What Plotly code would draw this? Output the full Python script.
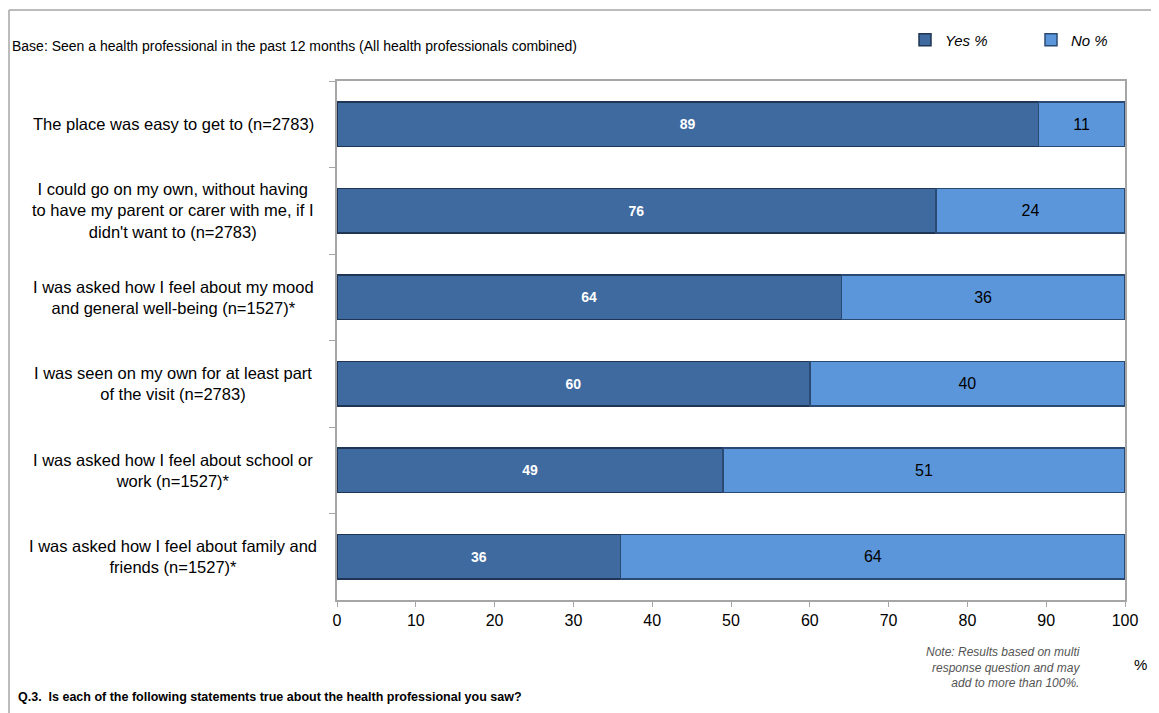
import plotly.graph_objects as go

categories = [
    "The place was easy to get to (n=2783)",
    "I could go on my own, without having<br>to have my parent or carer with me, if I<br>didn't want to (n=2783)",
    "I was asked how I feel about my mood<br>and general well-being (n=1527)*",
    "I was seen on my own for at least part<br>of the visit (n=2783)",
    "I was asked how I feel about school or<br>work (n=1527)*",
    "I was asked how I feel about family and<br>friends (n=1527)*",
]
yes_vals = [89, 76, 64, 60, 49, 36]
no_vals = [11, 24, 36, 40, 51, 64]
x_ticks = [0, 10, 20, 30, 40, 50, 60, 70, 80, 90, 100]

FONT = "Liberation Sans"
OFF = 8  # page body margin
W, H = 1159 - OFF, 713 - OFF
# plot area in screen pixels: x 337..1125, y 81..600
L, R, T, B = 337 - OFF, 1159 - 1125, 81 - OFF, 713 - 600
pw, ph = W - L - R, H - T - B

def px(x):  # screen x -> paper
    return (x - OFF - L) / pw

def py(y):  # screen y -> paper
    return (H - B - (y - OFF)) / ph

fig = go.Figure()
fig.add_trace(go.Bar(
    y=categories, x=yes_vals, orientation="h", name="Yes %",
    marker=dict(color="#3E6A9F", line=dict(color="#1F3553", width=1.5)),
    text=yes_vals, textposition="inside", insidetextanchor="middle",
    textfont=dict(color="white", size=14, family=FONT, weight="bold"),
))
fig.add_trace(go.Bar(
    y=categories, x=no_vals, orientation="h", name="No %",
    marker=dict(color="#5C96DA", line=dict(color="#2B4A73", width=1.5)),
    text=no_vals, textposition="inside", insidetextanchor="middle",
    textfont=dict(color="black", size=16, family=FONT),
))

cat_annotations = [
    dict(text=c, xref="paper", yref="y", x=px(173), y=c, xanchor="center", yanchor="middle",
         align="center", showarrow=False, font=dict(size=16.5, family=FONT))
    for c in categories
]

fig.update_layout(
    barmode="stack",
    bargap=0.48,
    width=W, height=H,
    margin=dict(l=L, r=R, t=T, b=B, autoexpand=False),
    paper_bgcolor="white", plot_bgcolor="white",
    font=dict(family=FONT, size=15, color="black"),
    legend=dict(
        orientation="h", x=px(905), y=py(40), xanchor="left", yanchor="middle",
        font=dict(size=15, family=FONT, style="italic"),
        entrywidth=81, entrywidthmode="pixels", itemwidth=30,
        bgcolor="rgba(0,0,0,0)", traceorder="normal",
    ),
    xaxis=dict(
        range=[0, 100], tickvals=x_ticks, showgrid=False, zeroline=False,
        showline=True, linecolor="#A6A6A6", linewidth=1.5, mirror=True,
        ticks="outside", ticklen=5, tickcolor="#A6A6A6",
        tickfont=dict(size=16, family=FONT), fixedrange=True, automargin=False,
    ),
    yaxis=dict(
        autorange="reversed", showgrid=False, zeroline=False,
        showline=True, linecolor="#A6A6A6", linewidth=1.5, mirror=True,
        ticks="outside", ticklen=6, tickcolor="#A6A6A6", tickson="boundaries",
        showticklabels=False, automargin=False,
    ),
    shapes=[
        dict(type="line", xref="paper", yref="paper", x0=px(9), x1=px(1159), y0=py(10), y1=py(10),
             line=dict(color="#A6A6A6", width=1.5)),
        dict(type="line", xref="paper", yref="paper", x0=px(9), x1=px(9), y0=py(10), y1=py(713),
             line=dict(color="#A6A6A6", width=1.5)),
    ],
    annotations=cat_annotations + [
        dict(text="Base: Seen a health professional in the past 12 months (All health professionals combined)",
             xref="paper", yref="paper", x=px(10), y=py(46), xanchor="left", yanchor="middle",
             showarrow=False, font=dict(size=14, family=FONT)),
        dict(text="Note: Results based on multi<br>response question and may<br>add to more than 100%.",
             xref="paper", yref="paper", x=px(1082), y=py(667), xanchor="right", yanchor="middle",
             align="right", showarrow=False,
             font=dict(size=12, family=FONT, style="italic", color="#555555")),
        dict(text="%", xref="paper", yref="paper", x=px(1140), y=py(664), xanchor="center", yanchor="middle",
             showarrow=False, font=dict(size=15, family=FONT)),
        dict(text="<b>Q.3.  Is each of the following statements true about the health professional you saw?</b>",
             xref="paper", yref="paper", x=px(16), y=py(697), xanchor="left", yanchor="middle",
             showarrow=False, font=dict(size=12.5, family=FONT)),
    ],
)

fig.write_html("out.html")
